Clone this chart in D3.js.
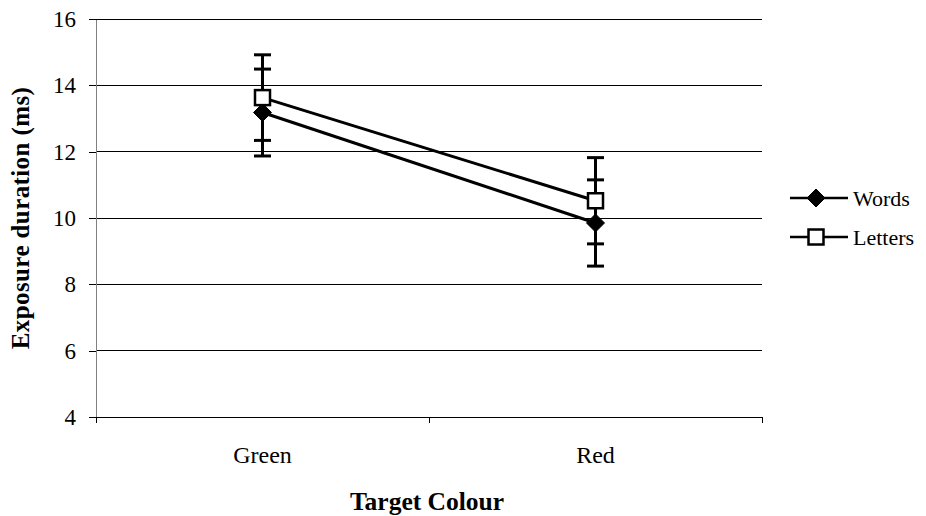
<!DOCTYPE html>
<html>
<head>
<meta charset="utf-8">
<script src="https://cdn.jsdelivr.net/npm/d3@7"></script>
<style>
  html, body { margin: 0; padding: 0; background: #fff; }
  svg text { font-family: "Liberation Serif", "Times New Roman", serif; fill: #000; }
</style>
</head>
<body>
<svg id="chart" width="926" height="516"></svg>
<script>
// Exposure duration by target colour, with error bars
const categories = ["Green", "Red"];
const seriesNames = ["Words", "Letters"];
const wordsMean = [13.18, 9.85];
const wordsErr = [1.31, 1.3];
const lettersMean = [13.63, 10.52];
const lettersErr = [1.29, 1.3];
const yTicks = [4, 6, 8, 10, 12, 14, 16];

const FONT = "'Liberation Serif', 'Times New Roman', serif";

const series = [
  { name: seriesNames[0], mean: wordsMean, err: wordsErr, marker: "diamond" },
  { name: seriesNames[1], mean: lettersMean, err: lettersErr, marker: "square" }
];

const svg = d3.select("#chart");
const plot = { left: 96, right: 762, top: 19, bottom: 417 };

const x = d3.scaleBand().domain(categories).range([plot.left, plot.right]);
const y = d3.scaleLinear().domain([4, 16]).range([plot.bottom, plot.top]);

// horizontal gridlines
svg.append("g").selectAll("line").data(yTicks.slice(1)).join("line")
  .attr("x1", plot.left).attr("x2", plot.right)
  .attr("y1", d => y(d)).attr("y2", d => y(d))
  .attr("stroke", "#000").attr("stroke-width", 1).attr("shape-rendering", "crispEdges");

// y axis
const yAxis = svg.append("g").attr("transform", `translate(${plot.left},0)`)
  .call(d3.axisLeft(y).tickValues(yTicks).tickSize(7).tickSizeOuter(0).tickPadding(13));
yAxis.attr("font-family", null).attr("font-size", null);
yAxis.select(".domain").attr("stroke", "#808080").attr("shape-rendering", "crispEdges");
yAxis.selectAll(".tick line").attr("stroke", "#000").attr("shape-rendering", "crispEdges");
yAxis.selectAll("text").style("font-family", FONT).style("font-size", "23px");

// x axis with ticks at category boundaries
const xAxisG = svg.append("g").attr("transform", `translate(0,${plot.bottom})`);
xAxisG.append("line").attr("x1", plot.left).attr("x2", plot.right)
  .attr("stroke", "#000").attr("shape-rendering", "crispEdges");
const bounds = categories.map(c => x(c)).concat([x(categories[categories.length - 1]) + x.bandwidth()]);
xAxisG.selectAll("line.tk").data(bounds).join("line").attr("class", "tk")
  .attr("x1", d => d).attr("x2", d => d).attr("y1", 0).attr("y2", 6)
  .attr("stroke", "#000").attr("shape-rendering", "crispEdges");
xAxisG.selectAll("text").data(categories).join("text")
  .attr("x", d => x(d) + x.bandwidth() / 2).attr("y", 46)
  .attr("text-anchor", "middle").style("font-family", FONT).style("font-size", "24px").text(d => d);

// axis titles
svg.append("text").attr("x", 427).attr("y", 510).attr("text-anchor", "middle")
  .style("font-family", FONT).style("font-size", "25.5px").attr("font-weight", "bold").text("Target Colour");
svg.append("text").attr("transform", "translate(29,218) rotate(-90)")
  .attr("text-anchor", "middle").style("font-family", FONT).style("font-size", "25px")
  .style("letter-spacing", "0.4px").attr("font-weight", "bold")
  .text("Exposure duration (ms)");

const cx = c => x(c) + x.bandwidth() / 2;

function drawMarker(g, type) {
  if (type === "diamond") {
    g.append("path").attr("d", "M0,-9L9,0L0,9L-9,0Z")
      .attr("fill", "#000").attr("stroke", "#000").attr("stroke-width", 1);
  } else {
    g.append("rect").attr("x", -7.5).attr("y", -7.5).attr("width", 15).attr("height", 15)
      .attr("fill", "#fff").attr("stroke", "#000").attr("stroke-width", 2.5);
  }
}

const line = d3.line().x((d, i) => cx(categories[i])).y(d => y(d));

series.forEach(s => {
  const g = svg.append("g");
  // error bars
  s.mean.forEach((m, i) => {
    const px = cx(categories[i]);
    g.append("line").attr("x1", px).attr("x2", px)
      .attr("y1", y(m - s.err[i])).attr("y2", y(m + s.err[i]))
      .attr("stroke", "#000").attr("stroke-width", 3);
    [m - s.err[i], m + s.err[i]].forEach(v => {
      g.append("line").attr("x1", px - 8.5).attr("x2", px + 8.5)
        .attr("y1", y(v)).attr("y2", y(v)).attr("stroke", "#000").attr("stroke-width", 3);
    });
  });
});

series.forEach(s => {
  svg.append("path").datum(s.mean).attr("d", line)
    .attr("fill", "none").attr("stroke", "#000").attr("stroke-width", 3);
});

series.forEach(s => {
  s.mean.forEach((m, i) => {
    const g = svg.append("g").attr("transform", `translate(${cx(categories[i])},${y(m)})`);
    drawMarker(g, s.marker);
  });
});

// legend
const legend = svg.append("g");
series.forEach((s, i) => {
  const ly = 198 + i * 39;
  const row = legend.append("g").attr("transform", `translate(790,${ly})`);
  row.append("line").attr("x1", 0).attr("x2", 58).attr("stroke", "#000").attr("stroke-width", 2.5);
  const mg = row.append("g").attr("transform", "translate(26,0)");
  drawMarker(mg, s.marker);
  row.append("text").attr("x", 63).attr("y", 8)
    .style("font-family", FONT).style("font-size", "22px").text(s.name);
});
</script>
</body>
</html>
